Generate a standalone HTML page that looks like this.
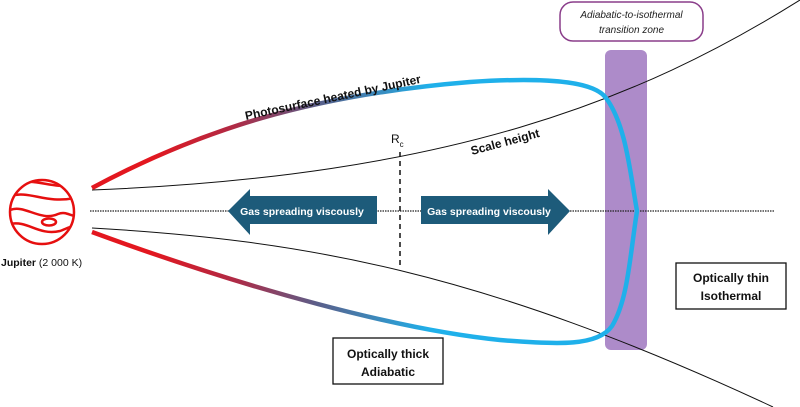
<!DOCTYPE html>
<html><head><meta charset="utf-8"><style>
html,body{margin:0;padding:0;background:#fff;}
svg{display:block;font-family:"Liberation Sans",sans-serif;}
</style></head><body>
<svg width="800" height="407" viewBox="0 0 800 407" xmlns="http://www.w3.org/2000/svg">
<defs>
<linearGradient id="g" gradientUnits="userSpaceOnUse" x1="150" y1="0" x2="430" y2="0">
<stop offset="0" stop-color="#e3171f"/><stop offset="0.3" stop-color="#b02a45"/><stop offset="0.6" stop-color="#5a5f8a"/><stop offset="1" stop-color="#1fb0ea"/>
</linearGradient>
<clipPath id="jc"><circle cx="42" cy="212" r="31"/></clipPath>
</defs>
<rect x="605" y="50" width="42" height="300" rx="6" fill="#ad8bc9"/>
<rect x="560" y="2" width="143" height="39" rx="13" fill="#fff" stroke="#8a3d8a" stroke-width="1.5"/>
<text x="631.5" y="18" font-size="10" font-style="italic" text-anchor="middle" fill="#222">Adiabatic-to-isothermal</text>
<text x="631.5" y="33" font-size="10" font-style="italic" text-anchor="middle" fill="#222">transition zone</text>
<line x1="90" y1="211" x2="775" y2="211" stroke="#222" stroke-width="1.2" stroke-dasharray="1.5 1"/>
<path d="M92,190 C450,176 640,100 800,0" fill="none" stroke="#111" stroke-width="1"/>
<path d="M92,228 C300,240 480,270 773,407" fill="none" stroke="#111" stroke-width="1"/>
<line x1="400" y1="152" x2="400" y2="268" stroke="#111" stroke-width="1.5" stroke-dasharray="5 4"/>
<text x="391" y="143" font-size="12" fill="#111">R<tspan font-size="8" dy="4">c</tspan></text>
<path d="M92,188 C200,130 310,95 470,82 C560,76 596,84 606,98 C626,125 630,172 637,211 C630,255 628,300 612,326 C598,346 560,345 500,340 C400,330 250,290 92,232" fill="none" stroke="url(#g)" stroke-width="4.5" stroke-linejoin="round"/>
<text transform="translate(246,120) rotate(-12)" font-size="12" font-weight="bold" fill="#111">Photosurface heated by Jupiter</text>
<text transform="translate(472,155) rotate(-15)" font-size="12" font-weight="bold" fill="#111">Scale height</text>
<polygon points="228,211 250,189 250,196 377,196 377,224 250,224 250,235" fill="#1d5b7a"/>
<polygon points="570,211 548,189 548,196 421,196 421,224 548,224 548,235" fill="#1d5b7a"/>
<text x="302" y="215" font-size="10.5" font-weight="bold" text-anchor="middle" fill="#fff">Gas spreading viscously</text>
<text x="489" y="215" font-size="10.5" font-weight="bold" text-anchor="middle" fill="#fff">Gas spreading viscously</text>
<g fill="none" stroke="#e60f0f" stroke-width="2.5">
<circle cx="42" cy="212" r="32"/>
<g clip-path="url(#jc)">
<path d="M10,196 C30,190 45,204 75,198"/>
<path d="M10,210 C25,204 40,222 58,214 C66,211 70,216 76,216"/>
<path d="M10,224 C28,220 38,236 60,231 C66,229 70,226 76,226"/>
<path d="M15,183 C35,178 50,188 75,186"/>
</g>
<ellipse cx="49" cy="222" rx="7" ry="3.5"/>
</g>
<text x="1" y="266" font-size="10.5" fill="#111"><tspan font-weight="bold">Jupiter</tspan> (2 000 K)</text>
<rect x="333" y="338" width="110" height="46" fill="#fff" stroke="#111" stroke-width="1.3"/>
<text x="388" y="358" font-size="12" font-weight="bold" text-anchor="middle" fill="#111">Optically thick</text>
<text x="388" y="376" font-size="12" font-weight="bold" text-anchor="middle" fill="#111">Adiabatic</text>
<rect x="676" y="263" width="110" height="46" fill="#fff" stroke="#111" stroke-width="1.3"/>
<text x="731" y="282" font-size="12" font-weight="bold" text-anchor="middle" fill="#111">Optically thin</text>
<text x="731" y="300" font-size="12" font-weight="bold" text-anchor="middle" fill="#111">Isothermal</text>
</svg>
</body></html>
